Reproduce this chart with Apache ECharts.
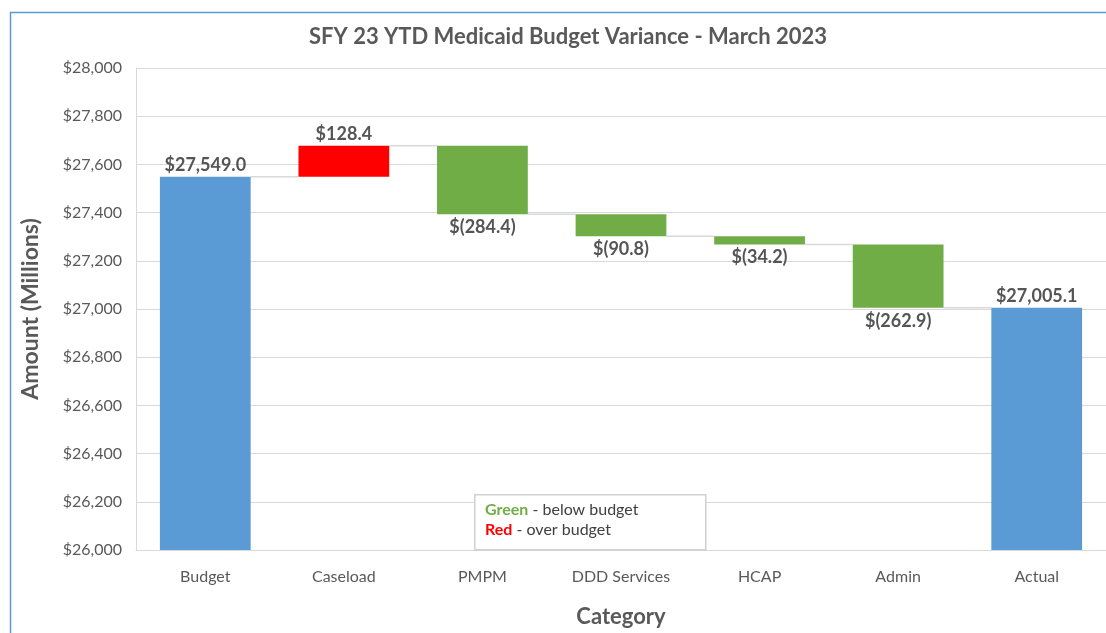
<!DOCTYPE html>
<html>
<head>
<meta charset="utf-8">
<script src="https://cdn.jsdelivr.net/npm/echarts@6/dist/echarts.min.js"></script>
<style>
html,body{margin:0;padding:0;background:#fff;}
#chart{width:1106px;height:633px;}
</style>
</head>
<body>
<div id="chart"></div>
<script>
const categories = ['Budget', 'Caseload', 'PMPM', 'DDD Services', 'HCAP', 'Admin', 'Actual'];
const values = [27549.0, 128.4, -284.4, -90.8, -34.2, -262.9, 27005.1];
const kinds = ['total', 'delta', 'delta', 'delta', 'delta', 'delta', 'total'];
const yTicks = { min: 26000, max: 28000, interval: 200 };

const COLORS = { total: '#5B9BD5', up: '#FF0000', down: '#70AD47' };
const FONT = 'Lato, "Open Sans", sans-serif';

function fmtMoney(v) {
  const s = Math.abs(v).toLocaleString('en-US', { minimumFractionDigits: 1, maximumFractionDigits: 1 });
  return v < 0 ? '$(' + s + ')' : '$' + s;
}

let level = 0;
const barData = [];
const connData = [];
values.forEach((v, i) => {
  let lo, hi, color, labelPos;
  if (kinds[i] === 'total') {
    lo = yTicks.min; hi = v; level = v; color = COLORS.total; labelPos = 'top';
  } else {
    const start = level, end = level + v;
    lo = Math.min(start, end); hi = Math.max(start, end);
    level = end;
    color = v >= 0 ? COLORS.up : COLORS.down;
    labelPos = v >= 0 ? 'top' : 'bottom';
  }
  barData.push({ value: [i, lo, hi], color, labelPos, label: fmtMoney(v) });
  if (i < values.length - 1) connData.push([i, level]);
});

const chart = echarts.init(document.getElementById('chart'));
const BAR_RATIO = 0.655;

chart.setOption({
  animation: false,
  title: {
    text: 'SFY 23 YTD Medicaid Budget Variance - March 2023',
    left: 563, top: 21, textAlign: 'center',
    textStyle: { fontFamily: FONT, fontSize: 22, fontWeight: 'bold', color: '#595959' }
  },
  grid: { left: 136, right: -8, top: 68, bottom: 82 },
  xAxis: {
    type: 'category',
    data: categories,
    name: 'Category',
    nameLocation: 'middle',
    nameGap: 56,
    nameTextStyle: { fontFamily: FONT, fontSize: 22, fontWeight: 'bold', color: '#595959' },
    axisLine: { lineStyle: { color: '#d9d9d9' } },
    axisTick: { show: false },
    axisLabel: { fontFamily: FONT, fontSize: 16, color: '#595959', margin: 19 }
  },
  yAxis: {
    type: 'value',
    min: yTicks.min, max: yTicks.max, interval: yTicks.interval,
    name: 'Amount (Millions)',
    nameLocation: 'middle',
    nameGap: 94,
    nameTextStyle: { fontFamily: FONT, fontSize: 23, fontWeight: 'bold', color: '#595959' },
    axisLine: { show: true, lineStyle: { color: '#d9d9d9' } },
    axisTick: { show: false },
    splitLine: { lineStyle: { color: '#d9d9d9' } },
    axisLabel: {
      fontFamily: FONT, fontSize: 16, color: '#595959', margin: 14,
      formatter: v => '$' + v.toLocaleString('en-US')
    }
  },
  series: [
    {
      type: 'custom',
      data: connData,
      z: 1,
      renderItem(params, api) {
        const i = api.value(0), lv = api.value(1);
        const w = api.size([1, 0])[0] * BAR_RATIO;
        const a = api.coord([i, lv]);
        const b = api.coord([i + 1, lv]);
        return {
          type: 'line',
          shape: { x1: a[0] + w / 2, y1: a[1], x2: b[0] - w / 2, y2: b[1] },
          style: { stroke: '#d9d9d9', lineWidth: 1.5 }
        };
      }
    },
    {
      type: 'custom',
      data: barData.map(d => d.value),
      z: 2,
      renderItem(params, api) {
        const d = barData[params.dataIndex];
        const i = api.value(0), lo = api.value(1), hi = api.value(2);
        const w = api.size([1, 0])[0] * BAR_RATIO;
        const pHi = api.coord([i, hi]);
        const pLo = api.coord([i, lo]);
        const ty = d.labelPos === 'top' ? pHi[1] - 3 : pLo[1] + 4;
        return {
          type: 'group',
          children: [
            {
              type: 'rect',
              shape: { x: pHi[0] - w / 2, y: pHi[1], width: w, height: pLo[1] - pHi[1] },
              style: { fill: d.color }
            },
            {
              type: 'text',
              style: {
                x: pHi[0], y: ty,
                text: d.label,
                align: 'center',
                verticalAlign: d.labelPos === 'top' ? 'bottom' : 'top',
                fontFamily: FONT, fontSize: 18, fontWeight: 'bold', fill: '#555555'
              }
            }
          ]
        };
      }
    }
  ],
  graphic: [
    {
      type: 'rect',
      left: 8, top: 10,
      shape: { width: 1120, height: 650 },
      style: { fill: 'none', stroke: '#5B9BD5', lineWidth: 1.5 },
      silent: true
    },
    {
      type: 'rect',
      left: 474, top: 494,
      shape: { width: 231, height: 55 },
      style: { fill: '#fff', stroke: '#d0d0d0', lineWidth: 1.5 },
      z: 10
    },
    {
      type: 'text',
      left: 485, top: 500,
      z: 11,
      style: {
        text: '{g|Green} - below budget\n{r|Red} - over budget',
        fontFamily: FONT, fontSize: 16, fill: '#404040', lineHeight: 20,
        rich: {
          g: { fontFamily: FONT, fontSize: 16, fontWeight: 'bold', fill: '#70AD47', lineHeight: 20 },
          r: { fontFamily: FONT, fontSize: 16, fontWeight: 'bold', fill: '#FF0000', lineHeight: 20 }
        }
      }
    }
  ]
});
</script>
</body>
</html>
